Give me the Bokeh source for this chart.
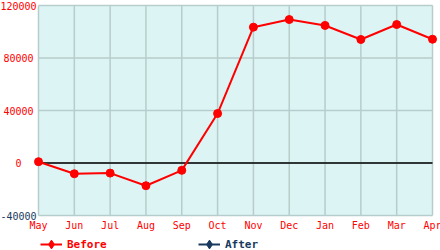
from bokeh.plotting import figure
from bokeh.models import ColumnDataSource, Range1d, Legend, LegendItem
from bokeh.core.properties import value
from bokeh.embed import file_html
from bokeh.resources import INLINE

months = ["May", "Jun", "Jul", "Aug", "Sep", "Oct", "Nov", "Dec", "Jan", "Feb", "Mar", "Apr"]
before = [1000, -8200, -7700, -17300, -5600, 37700, 103500, 109300, 104800, 94100, 105500, 94300]
after = [float("nan")] * 12   # series present in legend, no visible values
y_ticks = [-40000, 0, 40000, 80000, 120000]
y_tick_labels = ["-40000", "0", "40000", "80000", "120000"]
y_label_colors = ["#173a5e", "#ff0000", "#ff0000", "#ff0000", "#ff0000"]

RED = "#ff0000"
NAVY = "#173a5e"
GRID = "#b6cdcb"
BG = "#ddf4f4"
FONT = "DejaVu Sans Mono"

# layout: plot area in pixels inside a 440x250 canvas
W, H = 440, 250
L, R, T, B = 38, 432, 5, 215
n = len(months)
x_lo, x_hi = 0, n - 1
y_lo, y_hi = min(y_ticks), max(y_ticks)
xs = (R - L) / (x_hi - x_lo)
ys = (B - T) / (y_hi - y_lo)
x_range = Range1d(x_lo - L / xs, x_hi + (W - R) / xs)
y_range = Range1d(y_lo - (H - B) / ys, y_hi + T / ys)

p = figure(width=W, height=H, output_backend="svg", toolbar_location=None,
           x_range=x_range, y_range=y_range,
           min_border=0, min_border_left=0, min_border_right=0,
           min_border_top=0, min_border_bottom=0)
p.axis.visible = False
p.grid.visible = False
p.outline_line_color = None
p.background_fill_color = "white"
p.border_fill_color = "white"

# plot area background
p.quad(left=[x_lo], right=[x_hi], bottom=[y_lo], top=[y_hi],
       fill_color=BG, line_color=None)

# grid lines
xi = list(range(n))
p.segment(x0=xi, x1=xi, y0=[y_lo] * n, y1=[y_hi] * n, line_color=GRID, line_width=1.5)
p.segment(x0=[x_lo] * len(y_ticks), x1=[x_hi] * len(y_ticks), y0=y_ticks, y1=y_ticks,
          line_color=GRID, line_width=1.5)
# zero line
p.segment(x0=[x_lo], x1=[x_hi], y0=[0], y1=[0], line_color="black", line_width=1.3)

# tick labels
p.text(x=xi, y=[y_lo] * n, text=months, y_offset=10, text_align="center",
       text_baseline="middle", text_color=RED, text_font=value(FONT), text_font_size="10px")
p.text(x=[x_lo] * len(y_ticks), y=y_ticks, text=y_tick_labels, x_offset=-20,
       text_align="center", text_baseline="middle", text_color=y_label_colors,
       text_font=value(FONT), text_font_size="10px")

src_b = ColumnDataSource(dict(x=list(range(len(before))), y=before))
lb = p.line("x", "y", source=src_b, line_color=RED, line_width=2)
sb = p.scatter("x", "y", source=src_b, size=8, marker="circle", fill_color=RED, line_color=RED)

src_a = ColumnDataSource(dict(x=list(range(len(after))), y=after))
la = p.line("x", "y", source=src_a, line_color=NAVY, line_width=2)
sa = p.scatter("x", "y", source=src_a, size=8, marker="circle", fill_color=NAVY, line_color=NAVY)

# legend keys (diamond markers, not drawn in the plot)
key_src = ColumnDataSource(dict(x=[float("nan")], y=[float("nan")]))
kb = p.scatter("x", "y", source=key_src, marker="diamond", fill_color=RED, line_color=RED)
ka = p.scatter("x", "y", source=key_src, marker="diamond", fill_color=NAVY, line_color=NAVY)

def make_legend(label, rends, color, loc):
    lg = Legend(items=[LegendItem(label=label, renderers=rends)], location=loc,
                orientation="horizontal", padding=0, margin=0, border_line_alpha=0,
                background_fill_alpha=0, glyph_width=22, glyph_height=22, label_standoff=5,
                label_text_color=color, label_text_font=FONT, label_text_font_size="11px",
                label_text_font_style="bold", label_height=22)
    p.add_layout(lg, "center")

make_legend("Before", [lb, kb], RED, (40, -5))
make_legend("After", [la, ka], NAVY, (198, -5))

open("out.html", "w").write(file_html(p, INLINE))
